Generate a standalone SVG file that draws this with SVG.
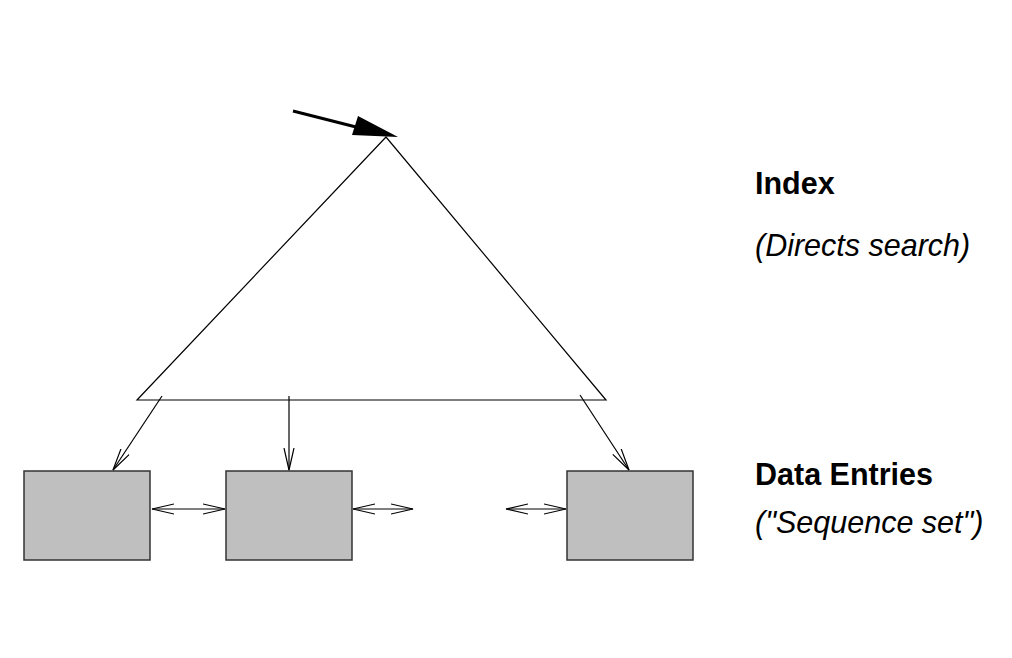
<svg xmlns="http://www.w3.org/2000/svg" width="1012" height="658" viewBox="0 0 1012 658">
<style>
.ln{stroke:#000;stroke-width:1.2;fill:none}
.box{fill:#bfbfbf;stroke:#333;stroke-width:1.5}
.b{font-family:"Liberation Sans",Arial,sans-serif;font-weight:bold;font-size:30.5px;fill:#000}
.i{font-family:"Liberation Sans",Arial,sans-serif;font-style:italic;font-size:30.5px;fill:#000}
</style>
<defs>
<marker id="v" viewBox="-22 -6 24 12" refX="0" refY="0" markerWidth="24" markerHeight="12" markerUnits="userSpaceOnUse" orient="auto-start-reverse">
<path d="M-22,-5 L0,0 L-22,5" fill="none" stroke="#000" stroke-width="1.2"/>
</marker>
</defs>
<rect width="1012" height="658" fill="#fff"/>
<g id="index">
<polygon class="ln" points="386,137 137,400 606,400"/>
</g>
<g id="entry1"><rect class="box" x="24" y="471" width="126" height="89"/></g>
<g id="entry2"><rect class="box" x="226" y="471" width="126" height="89"/></g>
<g id="entry3"><rect class="box" x="567" y="471" width="126" height="89"/></g>
<g id="connectors">
<line x1="293" y1="111" x2="360" y2="128" stroke="#000" stroke-width="3"/>
<polygon points="358,116 398,137 352,135" fill="#000"/>
<line class="ln" x1="162" y1="396" x2="113" y2="470" marker-end="url(#v)"/>
<line class="ln" x1="289" y1="396" x2="289" y2="470" marker-end="url(#v)"/>
<line class="ln" x1="580" y1="395" x2="629" y2="470" marker-end="url(#v)"/>
<line class="ln" x1="152" y1="509" x2="225" y2="509" marker-start="url(#v)" marker-end="url(#v)"/>
<line class="ln" x1="353" y1="509" x2="413" y2="509" marker-start="url(#v)" marker-end="url(#v)"/>
<line class="ln" x1="506" y1="509" x2="566" y2="509" marker-start="url(#v)" marker-end="url(#v)"/>
</g>
<g id="labels">
<text class="b" x="755" y="194">Index</text>
<text class="i" x="755" y="256">(Directs search)</text>
<text class="b" x="755" y="485">Data Entries</text>
<text class="i" x="755" y="533">("Sequence set")</text>
</g>
</svg>
